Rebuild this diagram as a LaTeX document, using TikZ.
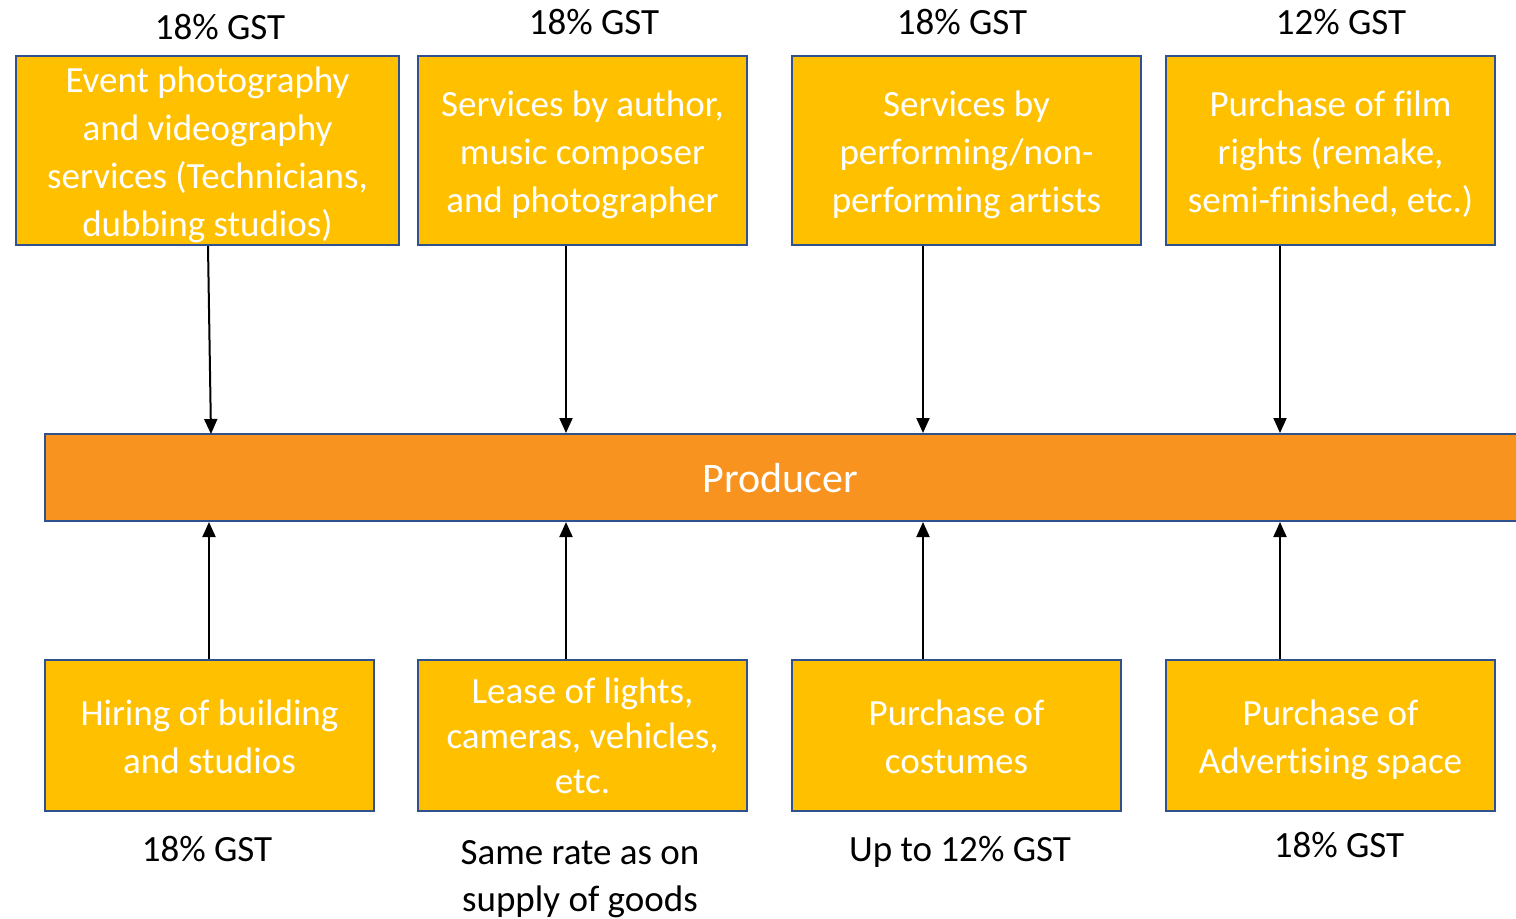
\documentclass[tikz,border=0pt]{standalone}
\usepackage{fontspec}
\setmainfont{Carlito}[Ligatures=NoCommon]
\usetikzlibrary{arrows.meta}
\definecolor{boxyellow}{RGB}{255,192,0}
\definecolor{boxorange}{RGB}{247,147,30}
\definecolor{boxblue}{RGB}{47,82,143}
\newcommand\Sl{\strut}
\begin{document}
\begin{tikzpicture}[x=0.5pt,y=-0.5pt,
  box/.style={draw=boxblue,line width=1pt,fill=boxyellow,inner sep=0pt},
  boxtxt/.style={text=white,align=center,inner sep=0pt,yshift=-2pt,
    font=\fontsize{18.5}{24}\selectfont},
  prod/.style={draw=boxblue,line width=1pt,fill=boxorange,inner sep=0pt},
  lbl/.style={text=black,align=center,inner sep=0pt,font=\fontsize{18.5}{24}\selectfont},
  arr/.style={line width=1pt,-{Triangle[width=6.5pt,length=7.5pt]}}]
\useasboundingbox (0,0) rectangle (1516,918);
% top boxes
\node[box,minimum width=383pt*0.5,minimum height=189pt*0.5] (t1) at (207.5,150.5) {};
\node[box,minimum width=329pt*0.5,minimum height=189pt*0.5] (t2) at (582.5,150.5) {};
\node[box,minimum width=349pt*0.5,minimum height=189pt*0.5] (t3) at (966.5,150.5) {};
\node[box,minimum width=329pt*0.5,minimum height=189pt*0.5] (t4) at (1330.5,150.5) {};
\node[boxtxt] (t1x) at (t1.center)
  {\Sl Event photography\\\Sl and videography\\\Sl services (Technicians,\\\Sl dubbing studios)};
\node[boxtxt] (t2x) at (t2.center)
  {\Sl Services by author,\\\Sl music composer\\\Sl and photographer};
\node[boxtxt] (t3x) at (t3.center)
  {\Sl Services by\\\Sl performing/non-\\\Sl performing artists};
\node[boxtxt] (t4x) at (t4.center)
  {\Sl Purchase of film\\\Sl rights (remake,\\\Sl semi-finished, etc.)};
% producer
\node[prod,minimum width=1475pt*0.5,minimum height=87pt*0.5] (p) at (782.5,477.5) {};
\node[text=white,inner sep=0pt,font=\fontsize{21}{25}\selectfont] (ptxt) at (780.5,478) {Producer};
% bottom boxes
\node[box,minimum width=329pt*0.5,minimum height=151pt*0.5] (b1) at (209.5,735.5) {};
\node[box,minimum width=329pt*0.5,minimum height=151pt*0.5] (b2) at (582.5,735.5) {};
\node[box,minimum width=329pt*0.5,minimum height=151pt*0.5] (b3) at (956.5,735.5) {};
\node[box,minimum width=329pt*0.5,minimum height=151pt*0.5] (b4) at (1330.5,735.5) {};
\node[boxtxt] (b1x) at (b1.center) {\Sl Hiring of building\\\Sl and studios};
\node[boxtxt,font=\fontsize{18.5}{22.5}\selectfont] (b2x) at (b2.center)
  {\Sl Lease of lights,\\\Sl cameras, vehicles,\\\Sl etc.};
\node[boxtxt] (b3x) at (b3.center) {\Sl Purchase of\\\Sl costumes};
\node[boxtxt] (b4x) at (b4.center) {\Sl Purchase of\\\Sl Advertising space};
% labels
\node[lbl] (l1) at (220,27) {18\% GST};
\node[lbl] (l2) at (594,22) {18\% GST};
\node[lbl] (l3) at (962,22) {18\% GST};
\node[lbl] (l4) at (1341,22) {12\% GST};
\node[lbl] (m1) at (207,849) {18\% GST};
\node[lbl,font=\fontsize{18.5}{23.5}\selectfont] (m2) at (580,879) {Same rate as on\\supply of goods};
\node[lbl] (m3) at (960,852) {Up to 12\% GST};
\node[lbl] (m4) at (1339,845) {18\% GST};
% arrows
\coordinate (a1) at (211,434);
\draw[arr] (t1.south) ++(0.5,0) -- (a1);
\draw[arr] (t2.south -| 566,0) -- (p.north -| 566,0);
\draw[arr] (t3.south -| 923,0) -- (p.north -| 923,0);
\draw[arr] (t4.south -| 1280,0) -- (p.north -| 1280,0);
\draw[arr] (b1.north -| 209,0) -- (p.south -| 209,0);
\draw[arr] (b2.north -| 566,0) -- (p.south -| 566,0);
\draw[arr] (b3.north -| 923,0) -- (p.south -| 923,0);
\draw[arr] (b4.north -| 1280,0) -- (p.south -| 1280,0);
\end{tikzpicture}
\end{document}
